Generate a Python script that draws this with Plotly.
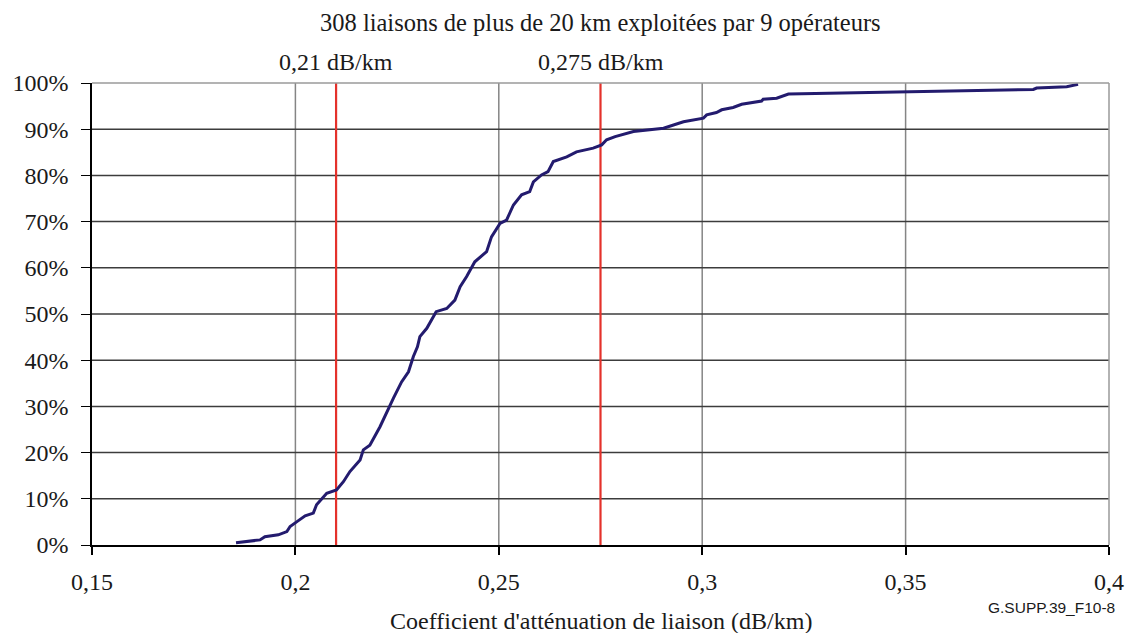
import plotly.graph_objects as go

# Cumulative distribution of link attenuation coefficients
coef = [0.1854, 0.1913, 0.1925, 0.1958, 0.1979, 0.1987, 0.2003, 0.2024, 0.2044, 0.2052,
        0.2077, 0.2101, 0.2118, 0.2134, 0.2159, 0.2167, 0.2183, 0.2208, 0.2241, 0.2261,
        0.2278, 0.2290, 0.2300, 0.2306, 0.2323, 0.2346, 0.2372, 0.2392, 0.2405, 0.2421,
        0.2441, 0.2470, 0.2482, 0.2503, 0.2519, 0.2536, 0.2556, 0.2576, 0.2585, 0.2605,
        0.2621, 0.2634, 0.2667, 0.2691, 0.2732, 0.2753, 0.2765, 0.2786, 0.2831, 0.2905,
        0.2954, 0.3003, 0.3011, 0.3035, 0.3048, 0.3076, 0.3097, 0.3117, 0.3146, 0.3150,
        0.3183, 0.3212, 0.3478, 0.3666, 0.3814, 0.3822, 0.3896, 0.3924]
cum_pct = [0.5, 1.1, 1.8, 2.2, 2.9, 4.0, 5.0, 6.3, 6.9, 8.7,
           11.2, 11.9, 13.7, 15.9, 18.4, 20.6, 21.6, 25.6, 31.8, 35.3,
           37.5, 40.8, 42.9, 45.1, 46.9, 50.5, 51.2, 53.0, 55.9, 58.1,
           61.3, 63.5, 66.7, 69.6, 70.3, 73.6, 75.8, 76.5, 78.6, 80.1,
           80.8, 83.0, 84.0, 85.1, 85.9, 86.6, 87.7, 88.4, 89.5, 90.2,
           91.6, 92.4, 93.1, 93.6, 94.2, 94.7, 95.4, 95.7, 96.1, 96.5,
           96.7, 97.6, 98.0, 98.3, 98.6, 98.9, 99.2, 99.7]

ref_values = [0.21, 0.275]
ref_labels = ["0,21 dB/km", "0,275 dB/km"]

x_ticks = [0.15, 0.2, 0.25, 0.3, 0.35, 0.4]
x_ticktext = ["0,15", "0,2", "0,25", "0,3", "0,35", "0,4"]
y_ticks = [0, 10, 20, 30, 40, 50, 60, 70, 80, 90, 100]
y_ticktext = [f"{v}%" for v in y_ticks]

title_text = "308 liaisons de plus de 20 km exploitées par 9 opérateurs"
x_title = "Coefficient d'atténuation de liaison (dB/km)"
code_label = "G.SUPP.39_F10-8"

serif = "Liberation Serif, Times New Roman, serif"
txt = "#1a1a1a"

fig = go.Figure()

# Vertical gridlines (gray)
for xv in x_ticks[1:-1]:
    fig.add_trace(go.Scatter(x=[xv, xv], y=[0, 100], mode="lines",
                             line=dict(color="#858585", width=1.5),
                             hoverinfo="skip", showlegend=False))
# Horizontal gridlines (dark)
for yv in y_ticks[1:-1]:
    fig.add_trace(go.Scatter(x=[0.15, 0.4], y=[yv, yv], mode="lines",
                             line=dict(color="#3c3c3c", width=1.5),
                             hoverinfo="skip", showlegend=False))

for rv in ref_values:
    fig.add_trace(go.Scatter(x=[rv, rv], y=[0, 100], mode="lines",
                             line=dict(color="#e4312b", width=2.2),
                             hoverinfo="skip", showlegend=False))

fig.add_trace(go.Scatter(x=coef, y=cum_pct, mode="lines",
                         line=dict(color="#231b6e", width=3),
                         showlegend=False))

for rv, lbl in zip(ref_values, ref_labels):
    fig.add_annotation(x=rv, y=1, xref="x", yref="paper", yanchor="middle",
                       yshift=21, text=lbl, showarrow=False,
                       font=dict(family=serif, size=24, color=txt))

# Top and right borders (gray)
fig.add_shape(type="line", xref="paper", yref="paper", x0=0, x1=1, y0=1, y1=1,
              line=dict(color="#9a9a9a", width=1.5))
fig.add_shape(type="line", xref="paper", yref="paper", x0=1, x1=1, y0=0, y1=1,
              line=dict(color="#9a9a9a", width=1.5))

fig.add_annotation(x=0.5, y=1, xref="paper", yref="paper", yanchor="middle",
                   yshift=61, text=title_text, showarrow=False,
                   font=dict(family=serif, size=24.5, color=txt))
fig.add_annotation(x=0.5, y=0, xref="paper", yref="paper", yanchor="middle",
                   yshift=-76, text=x_title, showarrow=False,
                   font=dict(family=serif, size=24, color=txt))
fig.add_annotation(x=1, y=0, xref="paper", yref="paper", xanchor="right", yanchor="middle",
                   xshift=8, yshift=-62, text=code_label, showarrow=False,
                   font=dict(family="Liberation Sans, Arial, sans-serif", size=15.5, color=txt))

fig.update_layout(
    width=1128, height=633,
    margin=dict(l=92, r=19, t=83, b=88, autoexpand=False),
    paper_bgcolor="white", plot_bgcolor="white",
    font=dict(family=serif, size=24, color=txt),
    xaxis=dict(range=[0.15, 0.4], tickvals=x_ticks, ticktext=x_ticktext,
               automargin=False,
               showgrid=False, zeroline=False, showline=True, linecolor="black",
               linewidth=1.5, ticks="outside", ticklen=8, tickcolor="black",
               tickwidth=2, ticklabelstandoff=6,
               tickfont=dict(family=serif, size=24, color=txt)),
    yaxis=dict(range=[0, 100], tickvals=y_ticks, ticktext=y_ticktext,
               automargin=False,
               showgrid=False, zeroline=False, showline=True, linecolor="black",
               linewidth=1.5, ticks="outside", ticklen=9, tickcolor="black",
               tickwidth=1, ticklabelstandoff=8,
               tickfont=dict(family=serif, size=24, color=txt)),
)

fig.write_html("out.html", config={"displayModeBar": False},
               post_script="document.body.style.margin='0';document.body.style.overflow='hidden';")
